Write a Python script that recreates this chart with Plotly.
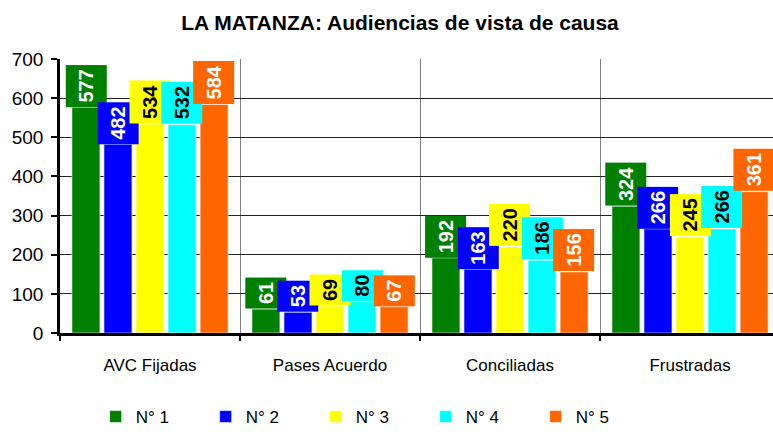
import plotly.graph_objects as go

categories = ["AVC Fijadas", "Pases Acuerdo", "Conciliadas", "Frustradas"]
series_names = ["N° 1", "N° 2", "N° 3", "N° 4", "N° 5"]
n1 = [577, 61, 192, 324]
n2 = [482, 53, 163, 266]
n3 = [534, 69, 220, 245]
n4 = [532, 80, 186, 266]
n5 = [584, 67, 156, 361]
series_values = [n1, n2, n3, n4, n5]
colors = ["#008000", "#0000FF", "#FFFF00", "#00FFFF", "#FF6600"]
label_colors = ["white", "white", "black", "black", "white"]
y_ticks = [0, 100, 200, 300, 400, 500, 600, 700]

FONT = "Liberation Sans, Arial, sans-serif"
bargap = 0.11
bargroupgap = 0.125

fig = go.Figure()
for name, vals, col in zip(series_names, series_values, colors):
    fig.add_trace(go.Bar(
        x=categories, y=vals, name=name,
        marker=dict(color=col, line=dict(color="white", width=0.6)),
    ))

nser = len(series_values)
slot = (1 - bargap) / nser
annotations = []
for i, (vals, col, tcol) in enumerate(zip(series_values, colors, label_colors)):
    for j, v in enumerate(vals):
        annotations.append(dict(
            x=j + (i - (nser - 1) / 2) * slot, y=v,
            xref="x", yref="y",
            text="<b>%d</b>" % v,
            showarrow=False, textangle=-90,
            xanchor="center", yanchor="bottom",
            bgcolor=col, borderpad=4, height=32,
            font=dict(family=FONT, size=20, color=tcol),
        ))

fig.update_layout(
    width=773, height=432,
    margin=dict(l=60, r=0, t=59, b=99, autoexpand=False),
    paper_bgcolor="white", plot_bgcolor="white",
    barmode="group", bargap=bargap, bargroupgap=bargroupgap,
    title=dict(text="<b>LA MATANZA: Audiencias de vista de causa</b>",
               x=400 / 773, xanchor="center", y=1 - 23 / 432, yanchor="middle",
               font=dict(family=FONT, size=21, color="black")),
    font=dict(family=FONT, color="black"),
    annotations=annotations,
    showlegend=True,
    legend=dict(orientation="h", x=0.05, xanchor="left",
                y=(432 - 399) / 432, yanchor="top",
                xref="paper", yref="container",
                entrywidth=65, entrywidthmode="pixels", itemwidth=30,
                font=dict(family=FONT, size=17, color="black"),
                traceorder="normal"),
)
fig.update_xaxes(
    type="category", range=[-0.5, 3.461], automargin=False,
    tickson="boundaries", ticks="outside", ticklen=5, tickwidth=2, tickcolor="black",
    showgrid=True, gridcolor="#808080", gridwidth=1,
    showline=True, linecolor="black", linewidth=2.5,
    tickfont=dict(family=FONT, size=17, color="black"),
    ticklabelstandoff=15,
)
fig.update_yaxes(
    range=[0, 700], tickvals=y_ticks, ticks="outside", ticklen=6, tickwidth=2,
    tickcolor="black", automargin=False,
    showgrid=True, gridcolor="#222222", gridwidth=1,
    showline=True, linecolor="black", linewidth=2.5,
    zeroline=False,
    tickfont=dict(family=FONT, size=19, color="black"),
    ticklabelstandoff=4,
)
fig.write_html(
    "out.html",
    config={"displayModeBar": False},
    post_script="document.body.style.margin='0';document.body.style.overflow='hidden';",
)
